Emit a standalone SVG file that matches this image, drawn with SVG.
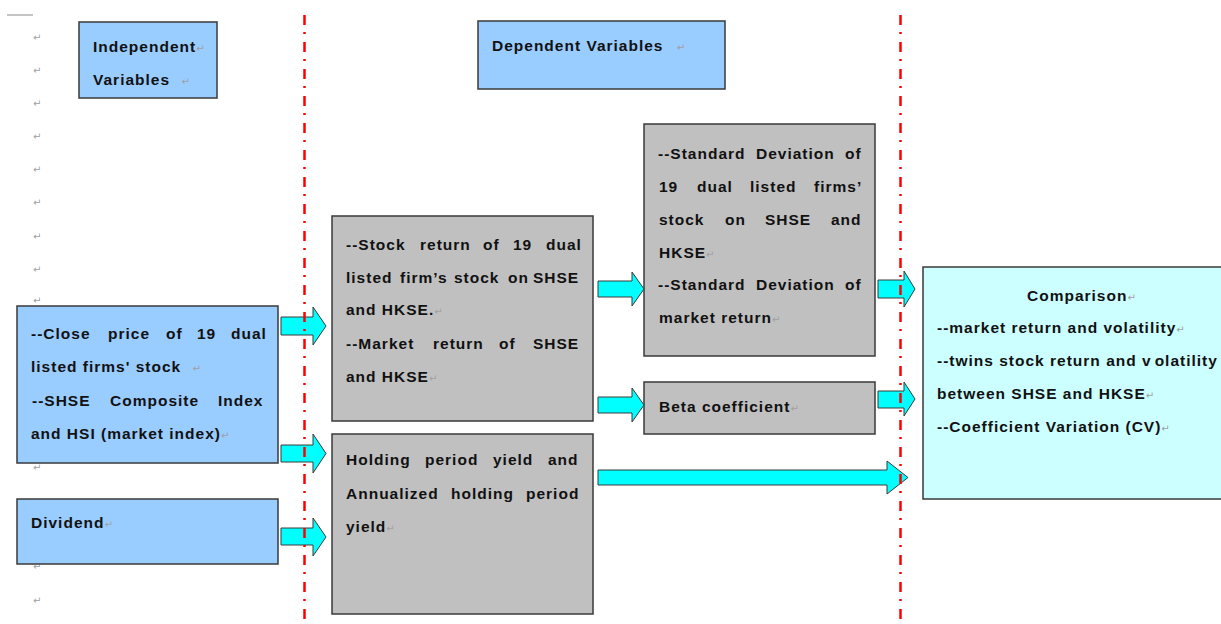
<svg xmlns="http://www.w3.org/2000/svg" width="1221" height="624" viewBox="0 0 1221 624">
<style>
.box{stroke:#3a3a3a;stroke-width:1.5}
.blue{fill:#99ccff}
.gray{fill:#c0c0c0}
.cyanbox{fill:#ccffff}
.t{font-family:"Liberation Sans",Arial,sans-serif;font-weight:bold;font-size:15.5px;letter-spacing:1px;fill:#111}
.pm{font-family:"DejaVu Sans",sans-serif;font-weight:normal;font-size:10px;letter-spacing:0;fill:#a0a0a0}
.arrow{fill:#00ffff;stroke:#3a3a3a;stroke-width:1}
.sep{stroke:#ff0000;stroke-width:2.5;stroke-dasharray:10 7 2 8;fill:none}
</style>
<rect width="1221" height="624" fill="#ffffff"/>
<line x1="7" y1="15" x2="33" y2="15" stroke="#b0b0b0" stroke-width="1.5"/>
<g id="margin-marks" class="pm">
<text x="33" y="41">↵</text><text x="33" y="74">↵</text><text x="33" y="107">↵</text><text x="33" y="140">↵</text><text x="33" y="173">↵</text><text x="33" y="206">↵</text><text x="33" y="240">↵</text><text x="33" y="273">↵</text><text x="33" y="304">↵</text><text x="33" y="471">↵</text><text x="33" y="570">↵</text><text x="33" y="604">↵</text>
</g>
<g id="independent-variables">
<rect class="box blue" x="79" y="22" width="138" height="76"/>
<text class="t" x="93" y="52">Independent<tspan class="pm">↵</tspan></text>
<text class="t" x="93" y="85">Variables <tspan class="pm" dx="6">↵</tspan></text>
</g>
<g id="dependent-variables">
<rect class="box blue" x="478" y="21" width="247" height="68"/>
<text class="t" x="492" y="51">Dependent Variables <tspan class="pm" dx="8">↵</tspan></text>
</g>
<g id="close-price">
<rect class="box blue" x="17" y="306" width="261" height="157"/>
<text class="t" y="339"><tspan x="31">--Close</tspan><tspan x="108">price</tspan><tspan x="166">of</tspan><tspan x="197">19</tspan><tspan x="231">dual</tspan></text>
<text class="t" x="31" y="372">listed firms' stock <tspan class="pm" dx="6">↵</tspan></text>
<text class="t" y="406"><tspan x="32">--SHSE</tspan><tspan x="110">Composite</tspan><tspan x="218">Index</tspan></text>
<text class="t" x="31" y="439">and HSI (market index)<tspan class="pm">↵</tspan></text>
</g>
<g id="dividend">
<rect class="box blue" x="17" y="499" width="261" height="65"/>
<text class="t" x="31" y="528">Dividend<tspan class="pm">↵</tspan></text>
</g>
<g id="stock-return">
<rect class="box gray" x="332" y="216" width="261" height="205"/>
<text class="t" y="250"><tspan x="346">--Stock</tspan><tspan x="420">return</tspan><tspan x="483">of</tspan><tspan x="513">19</tspan><tspan x="546">dual</tspan></text>
<text class="t" y="283"><tspan x="346">listed</tspan><tspan x="400">firm’s</tspan><tspan x="454">stock</tspan><tspan x="508">on</tspan><tspan x="533">SHSE</tspan></text>
<text class="t" x="346" y="315">and HKSE.<tspan class="pm">↵</tspan></text>
<text class="t" y="349"><tspan x="346">--Market</tspan><tspan x="433">return</tspan><tspan x="499">of</tspan><tspan x="533">SHSE</tspan></text>
<text class="t" x="346" y="382">and HKSE<tspan class="pm">↵</tspan></text>
</g>
<g id="holding-period">
<rect class="box gray" x="332" y="434" width="261" height="180"/>
<text class="t" y="465"><tspan x="346">Holding</tspan><tspan x="425">period</tspan><tspan x="493">yield</tspan><tspan x="548">and</tspan></text>
<text class="t" y="499"><tspan x="346">Annualized</tspan><tspan x="451">holding</tspan><tspan x="526">period</tspan></text>
<text class="t" x="346" y="532">yield<tspan class="pm">↵</tspan></text>
</g>
<g id="standard-deviation">
<rect class="box gray" x="644" y="124" width="231" height="232"/>
<text class="t" y="159"><tspan x="658">--Standard</tspan><tspan x="756">Deviation</tspan><tspan x="845">of</tspan></text>
<text class="t" y="192"><tspan x="659">19</tspan><tspan x="697">dual</tspan><tspan x="750">listed</tspan><tspan x="814">firms’</tspan></text>
<text class="t" y="225"><tspan x="659">stock</tspan><tspan x="725">on</tspan><tspan x="765">SHSE</tspan><tspan x="831">and</tspan></text>
<text class="t" x="659" y="258">HKSE<tspan class="pm">↵</tspan></text>
<text class="t" y="290"><tspan x="658">--Standard</tspan><tspan x="756">Deviation</tspan><tspan x="845">of</tspan></text>
<text class="t" x="659" y="323">market return<tspan class="pm">↵</tspan></text>
</g>
<g id="beta-coefficient">
<rect class="box gray" x="644" y="382" width="231" height="52"/>
<text class="t" x="659" y="412">Beta coefficient<tspan class="pm">↵</tspan></text>
</g>
<g id="comparison">
<rect class="box cyanbox" x="923" y="267" width="310" height="232"/>
<text class="t" x="1027" y="301">Comparison<tspan class="pm">↵</tspan></text>
<text class="t" x="937" y="333">--market return and volatility<tspan class="pm">↵</tspan></text>
<text class="t" x="937" y="366">--twins stock return and v<tspan dx="3">olatility</tspan></text>
<text class="t" x="937" y="399">between SHSE and HKSE<tspan class="pm">↵</tspan></text>
<text class="t" x="937" y="432">--Coefficient Variation (CV)<tspan class="pm">↵</tspan></text>
</g>
<g id="connectors">
<path class="arrow" d="M281,317 H313 V307 L326,326 L313,345 V335 H281 Z"/>
<path class="arrow" d="M281,445 H313 V434 L326,453.5 L313,473 V462 H281 Z"/>
<path class="arrow" d="M281,528 H313 V518 L326,537 L313,556 V545 H281 Z"/>
<path class="arrow" d="M598,281 H632 V272 L644,289 L632,306 V297 H598 Z"/>
<path class="arrow" d="M598,397 H632 V388 L644,405 L632,422 V413 H598 Z"/>
<path class="arrow" d="M878,280 H904 V271 L915,289 L904,307 V298 H878 Z"/>
<path class="arrow" d="M878,391 H904 V382 L915,399 L904,416 V408 H878 Z"/>
<path class="arrow" d="M598,470 H887 V461 L908,477.5 L887,494 V485 H598 Z"/>
</g>
<g id="separators">
<line class="sep" x1="304.5" y1="15" x2="304.5" y2="624"/>
<line class="sep" x1="900.5" y1="15" x2="900.5" y2="624"/>
</g>
</svg>
